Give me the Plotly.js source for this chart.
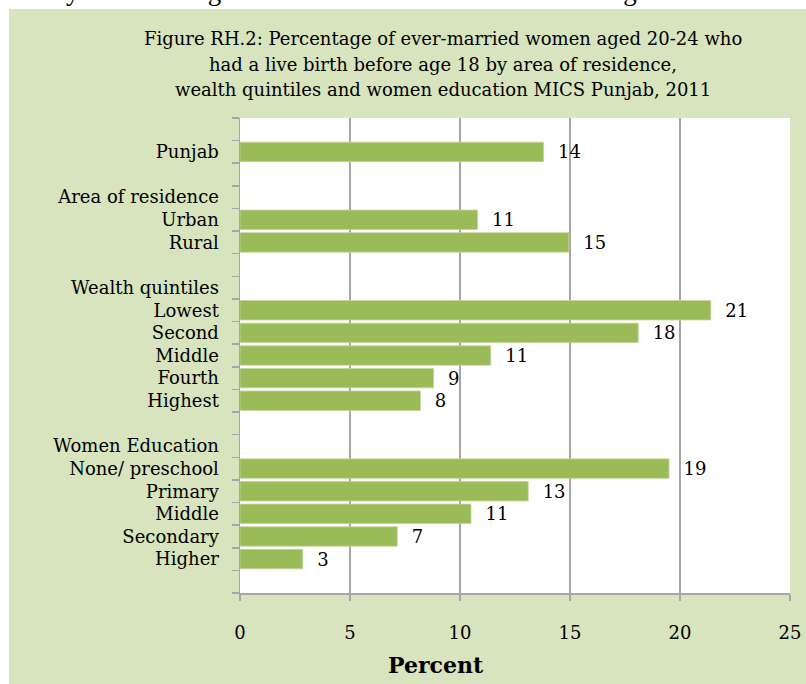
<!DOCTYPE html>
<html>
<head>
<meta charset="utf-8">
<script src="https://cdn.plot.ly/plotly-3.0.1.min.js"></script>
<style>
  html, body { margin: 0; padding: 0; background: #ffffff; }
  #box { position: absolute; left: 9px; top: 9px; width: 797px; height: 675px; background: #d7e4bd; }
  #chart { position: absolute; left: 0; top: 0; width: 806px; height: 684px; }
</style>
</head>
<body>
<div id="box"></div>
<div id="chart"></div>
<script>
const rows = ["", "Punjab", "", "Area of residence", "Urban", "Rural", "",
  "Wealth quintiles", "Lowest", "Second", "Middle", "Fourth", "Highest", "",
  "Women Education", "None/ preschool", "Primary", "Middle", "Secondary", "Higher", ""];
const values = [null, 13.8, null, null, 10.8, 14.95, null,
  null, 21.4, 18.1, 11.4, 8.8, 8.2, null,
  null, 19.5, 13.1, 10.5, 7.15, 2.85, null];
const labels = ["", "14", "", "", "11", "15", "",
  "", "21", "18", "11", "9", "8", "",
  "", "19", "13", "11", "7", "3", ""];
const xTicks = [0, 5, 10, 15, 20, 25];
const titleLines = [
  "Figure RH.2: Percentage of ever-married women aged 20-24 who",
  "had a live birth before age 18 by area of residence,",
  "wealth quintiles and women education MICS Punjab, 2011"
];

// unique category keys (rows has blanks and a repeated "Middle")
const keys = rows.map((r, i) => "r" + i);

const FONT = "DejaVu Serif, Liberation Serif, serif";
const FS = 18;
const gridc = "#a6a6a6";

const trace = {
  type: "bar",
  orientation: "h",
  y: keys,
  x: values,
  text: labels,
  texttemplate: "\u00a0\u00a0%{text}",
  textposition: "outside",
  constraintext: "none",
  cliponaxis: false,
  textfont: { family: FONT, size: FS, color: "#000000" },
  marker: { color: "#9bbb59", line: { color: "#c3d69b", width: 0.8 } },
  hoverinfo: "skip"
};

const annotations = titleLines.map((t, i) => ({
  xref: "paper", yref: "paper",
  x: (443 - 240) / 550, y: (593 - (26 + 25.5 * i)) / 475,
  xanchor: "center", yanchor: "top",
  text: t, showarrow: false,
  font: { family: FONT, size: FS, color: "#000000" }
}));
annotations.push({
  xref: "paper", yref: "paper",
  x: (436 - 240) / 550, y: (593 - 680) / 475,
  xanchor: "center", yanchor: "bottom",
  text: "<b>Percent</b>", showarrow: false,
  font: { family: FONT, size: 22, color: "#000000" }
});
annotations.push({
  xref: "paper", yref: "paper",
  x: (850 - 240) / 550, y: (593 - 8) / 475,
  xanchor: "right", yanchor: "bottom",
  text: "Early childbearing indicators for ever-married women aged 15-19 and 20-24",
  showarrow: false,
  font: { family: "Liberation Serif, serif", size: 27, color: "#000000" }
});

const layout = {
  width: 806, height: 684,
  margin: { l: 240, r: 16, t: 118, b: 91 },
  paper_bgcolor: "rgba(0,0,0,0)",
  plot_bgcolor: "#ffffff",
  bargap: 0.14,
  showlegend: false,
  font: { family: FONT, size: FS, color: "#000000" },
  xaxis: {
    range: [0, 25], tickvals: xTicks, ticktext: xTicks.map(String),
    showgrid: true, gridcolor: gridc, gridwidth: 1.5,
    showline: true, linecolor: gridc, linewidth: 1.5,
    ticks: "outside", ticklen: 6, tickcolor: gridc, tickwidth: 1.5,
    zeroline: false, ticklabelstandoff: 17,
    tickfont: { family: FONT, size: FS, color: "#000000" },
    fixedrange: true
  },
  yaxis: {
    type: "category", categoryorder: "array", categoryarray: keys,
    range: [keys.length - 0.5, -0.5],
    tickmode: "array", tickvals: keys, ticktext: rows,
    showgrid: false, showline: true, linecolor: gridc, linewidth: 1.5,
    ticks: "outside", ticklen: 7, tickcolor: gridc, tickwidth: 1.5,
    tickson: "boundaries", ticklabelstandoff: 16,
    tickfont: { family: FONT, size: FS, color: "#000000" },
    fixedrange: true
  },
  annotations: annotations
};

Plotly.newPlot("chart", [trace], layout, { displayModeBar: false, staticPlot: true });
</script>
</body>
</html>
